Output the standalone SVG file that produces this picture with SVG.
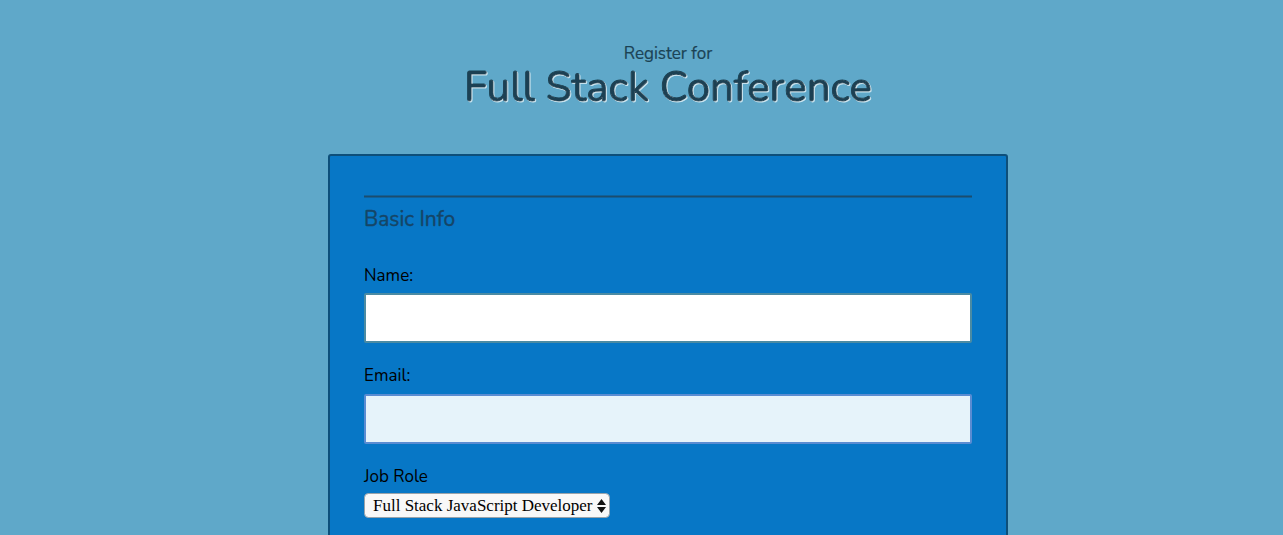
<svg xmlns="http://www.w3.org/2000/svg" width="1283" height="535" viewBox="0 0 1283 535">
<defs>
<filter id="tshadow" x="-5%" y="-20%" width="110%" height="140%">
<feDropShadow dx="1" dy="1" stdDeviation="0.6" flood-color="#d8ebf3" flood-opacity="0.9"/>
</filter>
</defs>
<style>
.lbl{font-family:"Nunito","Noto Sans","Liberation Sans",sans-serif;font-size:17px;fill:#000}
.title{font-family:"Nunito","Noto Sans","Liberation Sans",sans-serif;fill:#1b4153}
</style>
<rect x="0" y="0" width="1283" height="535" fill="#5fa8c9"/>
<g id="header">
<text class="title" x="668" y="59" font-size="17" text-anchor="middle" fill="#1d4a5e" stroke="#1d4a5e" stroke-width="0.2">Register for</text>
<text class="title" x="668" y="101" font-size="42" text-anchor="middle" stroke="#1b4153" stroke-width="0.9" filter="url(#tshadow)">Full Stack Conference</text>
</g>
<g id="panel">
<rect x="329" y="155" width="678" height="400" rx="2" fill="#0777c6" stroke="#0d4f7a" stroke-width="2"/>
<line x1="364" y1="196.5" x2="972" y2="196.5" stroke="#1b4d6e" stroke-width="2"/>
<text x="364" y="226" font-family="Nunito,'Noto Sans','Liberation Sans',sans-serif" font-size="21" fill="#154566" stroke="#154566" stroke-width="0.4">Basic Info</text>
</g>
<g id="name-field">
<text class="lbl" x="364" y="281">Name:</text>
<rect x="365" y="294" width="606" height="48" fill="#ffffff" stroke="#4b8ba3" stroke-width="2" rx="1"/>
</g>
<g id="email-field">
<text class="lbl" x="364" y="381">Email:</text>
<rect x="365" y="395" width="606" height="48" fill="#e6f3fa" stroke="#5a8cd2" stroke-width="2" rx="1"/>
</g>
<g id="job-role">
<text class="lbl" x="364" y="482">Job Role</text>
<rect x="364.5" y="493.5" width="245" height="24" rx="4" fill="#f8f8f8" stroke="#9aa3aa" stroke-width="1"/>
<text x="373" y="511" font-family="'Liberation Serif','Times New Roman',serif" font-size="17" fill="#000">Full Stack JavaScript Developer</text>
<path d="M597 505 L601.5 499 L606 505 Z M597 507 L601.5 513 L606 507 Z" fill="#111"/>
</g>
</svg>
